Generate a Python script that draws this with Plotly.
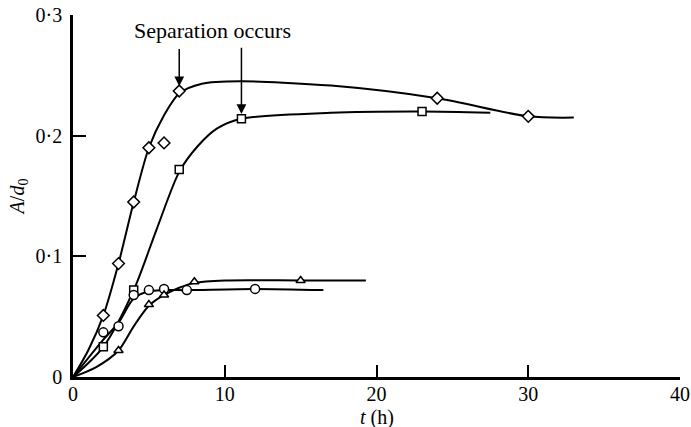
import plotly.graph_objects as go

# Measured points: amplitude ratio A/d0 against time t (h)
diamond_t = [2, 3, 4, 5, 6, 7, 24, 30]
diamond_v = [0.051, 0.094, 0.145, 0.190, 0.194, 0.237, 0.231, 0.216]

square_t = [2, 4, 7, 11.1, 23]
square_v = [0.025, 0.072, 0.172, 0.214, 0.220]

circle_t = [2, 3, 4, 5, 6, 7.5, 12]
circle_v = [0.037, 0.042, 0.068, 0.072, 0.073, 0.072, 0.073]

triangle_t = [3, 5, 6, 8, 15]
triangle_v = [0.022, 0.060, 0.068, 0.079, 0.080]

# Hand-drawn trend curves (knots of the smooth lines)
diamond_curve_t = [0, 1, 2, 3, 4, 5, 6, 7, 8.5, 11, 17, 24, 30, 33]
diamond_curve_v = [0, 0.022, 0.051, 0.094, 0.145, 0.190, 0.217, 0.235, 0.243, 0.245, 0.2415, 0.231, 0.216, 0.215]

square_curve_t = [0, 2, 4, 5.5, 7, 8.2, 9.5, 11.1, 17, 23, 27.5]
square_curve_v = [0, 0.025, 0.072, 0.122, 0.170, 0.191, 0.206, 0.214, 0.219, 0.220, 0.219]

circle_curve_t = [0, 2, 3, 4, 5, 6, 7.5, 12, 16.5]
circle_curve_v = [0, 0.031, 0.045, 0.065, 0.071, 0.072, 0.072, 0.073, 0.072]

triangle_curve_t = [0, 1.5, 3, 4, 5, 6, 7, 8, 10, 15, 19.3]
triangle_curve_v = [0, 0.008, 0.022, 0.042, 0.059, 0.068, 0.074, 0.078, 0.080, 0.080, 0.080]

# Axis ticks
x_tickvals = [0, 10, 20, 30, 40]
x_ticktext = ["0", "10", "20", "30", "40"]
y_tickvals = [0, 0.1, 0.2, 0.3]
y_ticktext = ["0", "0·1", "0·2", "0·3"]

# Annotation: where separation occurs (t, A/d0)
sep_t = [7, 11.1]
sep_v = [0.241, 0.218]

FONT = "Liberation Serif"
fig = go.Figure()

line_style = dict(color="black", width=2, shape="spline", smoothing=0.8)
for ct, cv in [(diamond_curve_t, diamond_curve_v), (square_curve_t, square_curve_v),
               (circle_curve_t, circle_curve_v), (triangle_curve_t, triangle_curve_v)]:
    fig.add_trace(go.Scatter(x=ct, y=cv, mode="lines", line=line_style,
                             hoverinfo="skip", showlegend=False))

marker_line = dict(color="black", width=1.5)
for t, v, sym, size in [(diamond_t, diamond_v, "diamond", 9),
                        (square_t, square_v, "square", 8),
                        (circle_t, circle_v, "circle", 9),
                        (triangle_t, triangle_v, "triangle-up", 8)]:
    fig.add_trace(go.Scatter(
        x=t, y=v, mode="markers", showlegend=False,
        marker=dict(symbol=sym, size=size, color="white", line=marker_line),
    ))

fig.add_annotation(x=9.2, y=0.287, text="Separation occurs", showarrow=False,
                   font=dict(family=FONT, size=22, color="black"))
arrow_tops = [0.273, 0.274]
for st, sv, top in zip(sep_t, sep_v, arrow_tops):
    fig.add_annotation(x=st, y=sv, ax=st, ay=top, xref="x", yref="y",
                       axref="x", ayref="y", text="", showarrow=True,
                       arrowhead=2, arrowsize=1.3, arrowwidth=1.5, arrowcolor="black")

# x-axis title placed just under the tick labels
fig.add_annotation(x=0.5, y=-0.111, xref="paper", yref="paper", yanchor="middle",
                   text="<i>t</i> (h)", showarrow=False,
                   font=dict(family=FONT, size=20, color="black"))

fig.update_layout(
    width=691, height=427,
    margin=dict(l=73, r=11, t=15, b=50, autoexpand=False),
    paper_bgcolor="white", plot_bgcolor="white",
    font=dict(family=FONT, size=20, color="black"),
)
fig.update_xaxes(
    range=[0, 40], showgrid=False, zeroline=False, automargin=False,
    showline=True, linecolor="black", linewidth=2.5,
    ticks="inside", ticklen=12, tickwidth=2, tickcolor="black",
    tickvals=x_tickvals, ticktext=x_ticktext, ticklabelstandoff=-3,
)
fig.update_yaxes(
    range=[0, 0.3], showgrid=False, zeroline=False, automargin=False,
    showline=True, linecolor="black", linewidth=2.5,
    ticks="inside", ticklen=13, tickwidth=2, tickcolor="black",
    tickvals=y_tickvals, ticktext=y_ticktext, ticklabelstandoff=4,
    title=dict(text="<i>A</i>/<i>d</i><sub>0</sub>", standoff=6, font=dict(family=FONT, size=20)),
)

fig.write_html("out.html")
